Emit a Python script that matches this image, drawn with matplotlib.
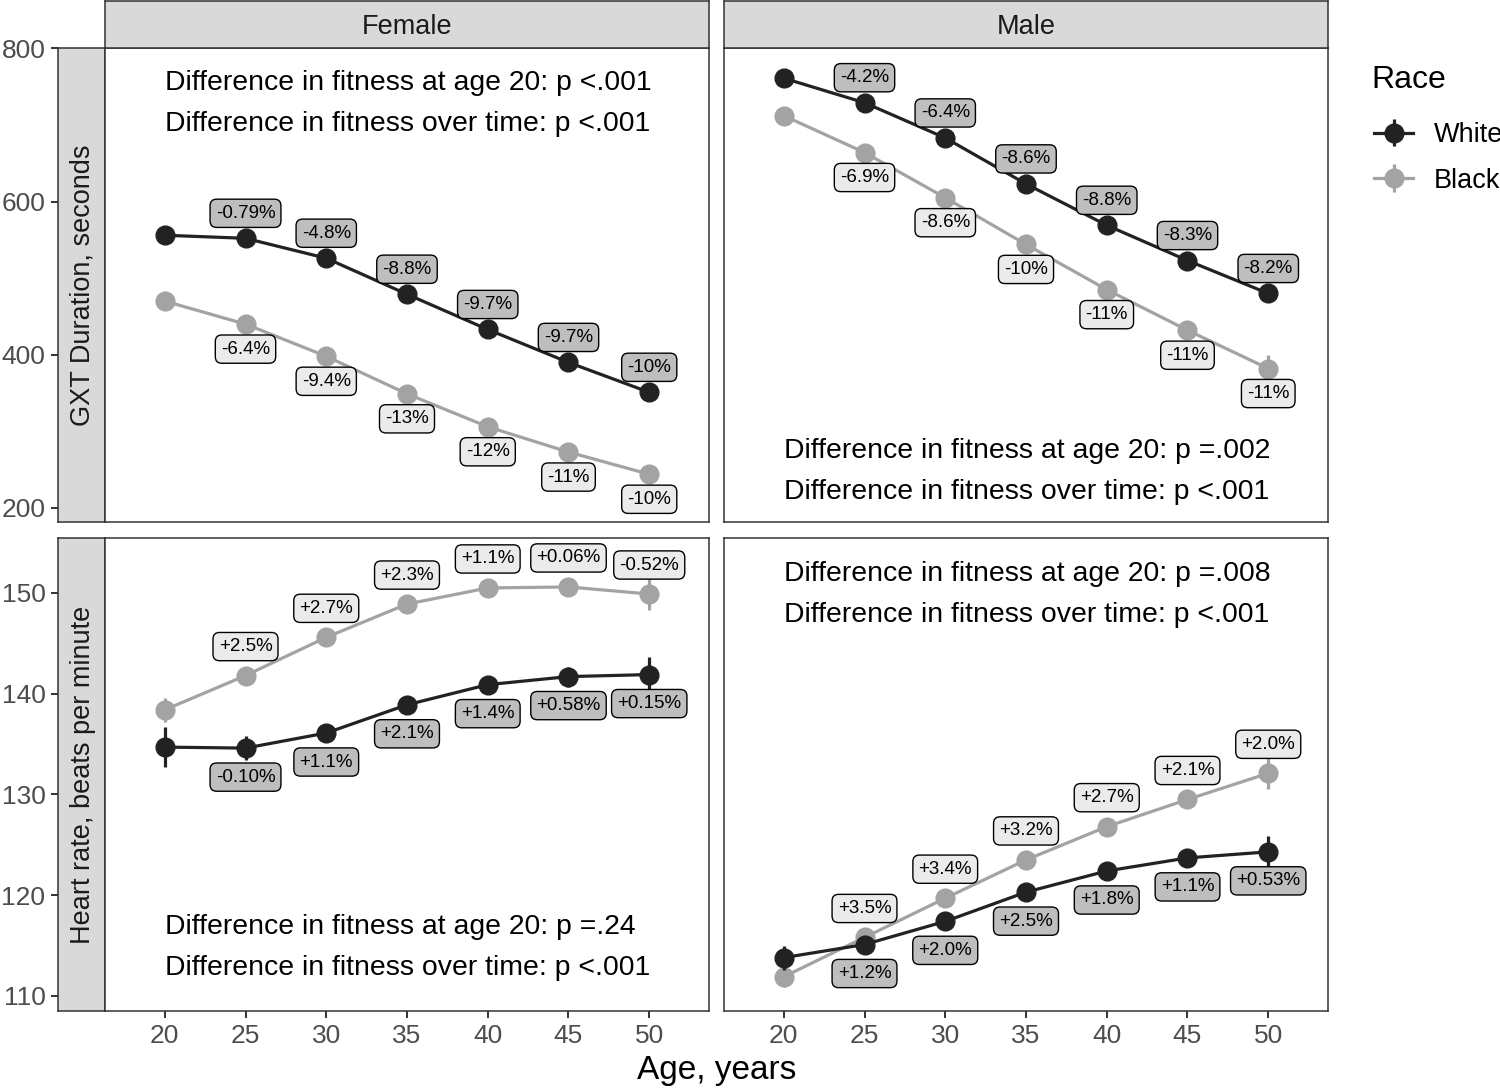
import matplotlib
matplotlib.use("Agg")
import matplotlib.pyplot as plt
from matplotlib.transforms import blended_transform_factory

plt.rcParams['font.family'] = ['Liberation Sans', 'DejaVu Sans']

# ---------------- data ----------------
ages = [20, 25, 30, 35, 40, 45, 50]
sexes = ["Female", "Male"]
races = ["White", "Black"]
measures = ["GXT Duration, seconds", "Heart rate, beats per minute"]

gxt_female_white = [556, 552, 526, 479, 433, 390, 351]
gxt_female_black = [470, 440, 398, 349, 306, 273, 244]
gxt_male_white = [761, 729, 683, 623, 569, 523, 480]
gxt_male_black = [712, 664, 605, 544, 485, 432, 382]

hr_female_white = [134.7, 134.6, 136.1, 138.9, 140.9, 141.7, 141.9]
hr_female_black = [138.4, 141.8, 145.6, 148.9, 150.5, 150.6, 149.9]
hr_male_white = [113.8, 115.1, 117.4, 120.3, 122.4, 123.7, 124.3]
hr_male_black = [111.9, 115.8, 119.7, 123.5, 126.8, 129.5, 132.1]

gxt_female_white_err = [12, 4, 4, 4, 4, 4, 4]
gxt_female_black_err = [5, 4, 4, 4, 4, 4, 5]
gxt_male_white_err = [5, 4, 4, 4, 4, 4, 5]
gxt_male_black_err = [5, 4, 4, 4, 4, 5, 18]

hr_female_white_err = [2.0, 1.2, 0.7, 0.9, 0.7, 1.0, 1.7]
hr_female_black_err = [1.2, 0.9, 0.5, 0.5, 0.5, 0.8, 1.6]
hr_male_white_err = [1.2, 0.5, 0.5, 0.5, 0.5, 0.8, 1.6]
hr_male_black_err = [1.0, 0.5, 0.5, 0.5, 0.5, 0.6, 1.6]

# percent-change labels for ages 25..50
pct_gxt_female_white = ["-0.79%", "-4.8%", "-8.8%", "-9.7%", "-9.7%", "-10%"]
pct_gxt_female_black = ["-6.4%", "-9.4%", "-13%", "-12%", "-11%", "-10%"]
pct_gxt_male_white = ["-4.2%", "-6.4%", "-8.6%", "-8.8%", "-8.3%", "-8.2%"]
pct_gxt_male_black = ["-6.9%", "-8.6%", "-10%", "-11%", "-11%", "-11%"]
pct_hr_female_white = ["-0.10%", "+1.1%", "+2.1%", "+1.4%", "+0.58%", "+0.15%"]
pct_hr_female_black = ["+2.5%", "+2.7%", "+2.3%", "+1.1%", "+0.06%", "-0.52%"]
pct_hr_male_white = ["+1.2%", "+2.0%", "+2.5%", "+1.8%", "+1.1%", "+0.53%"]
pct_hr_male_black = ["+3.5%", "+3.4%", "+3.2%", "+2.7%", "+2.1%", "+2.0%"]

p_age20 = {("GXT", "Female"): "<.001", ("GXT", "Male"): "=.002",
           ("HR", "Female"): "=.24", ("HR", "Male"): "=.008"}
p_time = {("GXT", "Female"): "<.001", ("GXT", "Male"): "<.001",
          ("HR", "Female"): "<.001", ("HR", "Male"): "<.001"}

series = {
    ("GXT", "Female", "White"): (gxt_female_white, gxt_female_white_err, pct_gxt_female_white),
    ("GXT", "Female", "Black"): (gxt_female_black, gxt_female_black_err, pct_gxt_female_black),
    ("GXT", "Male", "White"): (gxt_male_white, gxt_male_white_err, pct_gxt_male_white),
    ("GXT", "Male", "Black"): (gxt_male_black, gxt_male_black_err, pct_gxt_male_black),
    ("HR", "Female", "White"): (hr_female_white, hr_female_white_err, pct_hr_female_white),
    ("HR", "Female", "Black"): (hr_female_black, hr_female_black_err, pct_hr_female_black),
    ("HR", "Male", "White"): (hr_male_white, hr_male_white_err, pct_hr_male_white),
    ("HR", "Male", "Black"): (hr_male_black, hr_male_black_err, pct_hr_male_black),
}

# ---------------- style ----------------
W, H = 1500, 1088
line_col = {"White": "#222222", "Black": "#A3A3A3"}
lab_fill = {"White": "#BEBEBE", "Black": "#EBEBEB"}
# which race's labels go above the line, per measure
above_race = {"GXT": "White", "HR": "Black"}
lab_off = {"GXT": 25, "HR": 29}  # pixels
ylims = {"GXT": (181.7, 800.8), "HR": (108.5, 155.46)}
yticks = {"GXT": [200, 400, 600, 800], "HR": [110, 120, 130, 140, 150]}
text_pos = {("GXT", "Female"): (0.926, 0.840), ("GXT", "Male"): (0.150, 0.063),
            ("HR", "Female"): (0.178, 0.091), ("HR", "Male"): (0.924, 0.837)}

fig = plt.figure(figsize=(W / 100, H / 100), dpi=100)

def fx(px):
    return px / W

def fy(py):
    return 1 - py / H

panel_x = {"Female": (105, 709), "Male": (724, 1328)}
panel_y = {"GXT": (47.7, 522), "HR": (538, 1011)}
strip_x = (58, 105)
strip_top = 1

border_col = "#333333"
tick_col = "#4D4D4D"
px2pt = 72 / 100

handles = {}
for mi, m in enumerate(["GXT", "HR"]):
    y0, y1 = panel_y[m]
    # row strip (with y ticks on its left)
    sax = fig.add_axes([fx(strip_x[0]), fy(y1), fx(strip_x[1] - strip_x[0]), (y1 - y0) / H])
    sax.set_facecolor("#D9D9D9")
    sax.set_ylim(*ylims[m])
    sax.set_xticks([])
    sax.set_yticks(yticks[m])
    sax.tick_params(axis="y", length=7 * px2pt, width=1.4, color=border_col,
                    labelsize=19, labelcolor=tick_col, pad=4)
    for sp in sax.spines.values():
        sp.set_color(border_col)
        sp.set_linewidth(1.1)
    sax.text(0.53, 0.5, measures[mi], rotation=90, ha="center", va="center",
             fontsize=19.5, color="#1A1A1A", transform=sax.transAxes)

    for s in sexes:
        xa, xb = panel_x[s]
        ax = fig.add_axes([fx(xa), fy(y1), fx(xb - xa), (y1 - y0) / H])
        ax.set_xlim(16.3, 53.7)
        ax.set_ylim(*ylims[m])
        ax.set_yticks([])
        for sp in ax.spines.values():
            sp.set_color(border_col)
            sp.set_linewidth(1.1)
        if m == "HR":
            ax.set_xticks([20, 25, 30, 35, 40, 45, 50])
            ax.tick_params(axis="x", length=7 * px2pt, width=1.4, color=border_col,
                           labelsize=19, labelcolor=tick_col, pad=4)
        else:
            ax.set_xticks([])
            # column strip
            cax = fig.add_axes([fx(xa), fy(y0), fx(xb - xa), (y0 - strip_top) / H])
            cax.set_facecolor("#D9D9D9")
            cax.set_xticks([])
            cax.set_yticks([])
            for sp in cax.spines.values():
                sp.set_color(border_col)
                sp.set_linewidth(1.1)
            cax.text(0.5, 0.44, s, ha="center", va="center", fontsize=19.5,
                     color="#1A1A1A", transform=cax.transAxes)

        for r in races:
            vals, errs, pcts = series[(m, s, r)]
            h = ax.errorbar(ages, vals, yerr=errs, fmt="-o", color=line_col[r],
                            ms=13.5, lw=2.3, elinewidth=2.3, capsize=0,
                            zorder=3 if r == "White" else 2)
            handles.setdefault(r, h)
            sign = 1 if above_race[m] == r else -1
            for a, v, t in zip(ages[1:], vals[1:], pcts):
                ax.annotate(t, (a, v), xytext=(0, sign * lab_off[m] * px2pt),
                            textcoords="offset points", ha="center", va="center",
                            fontsize=13.5, color="black", zorder=5,
                            bbox=dict(boxstyle="round,pad=0.3,rounding_size=0.35",
                                      fc=lab_fill[r], ec="black", lw=1.0))

        tr = blended_transform_factory(ax.transData, ax.transAxes)
        ty1, ty2 = text_pos[(m, s)]
        ax.text(20, ty1, "Difference in fitness at age 20: p " + p_age20[(m, s)],
                transform=tr, ha="left", va="center", fontsize=20.4, color="black")
        ax.text(20, ty2, "Difference in fitness over time: p " + p_time[(m, s)],
                transform=tr, ha="left", va="center", fontsize=20.4, color="black")

fig.text(fx(717), fy(1070), "Age, years", ha="center", va="center", fontsize=24,
         color="black")

fig.text(fx(1371), fy(80), "Race", ha="left", va="center", fontsize=23, color="black")
leg = fig.legend([handles["White"], handles["Black"]], races,
                 loc="upper left", bbox_to_anchor=(fx(1374), fy(122)),
                 frameon=False, fontsize=19.5, borderpad=0,
                 handlelength=1.45, labelspacing=0.72,
                 handletextpad=0.75, borderaxespad=0)

fig.savefig("out.png", dpi=100)
